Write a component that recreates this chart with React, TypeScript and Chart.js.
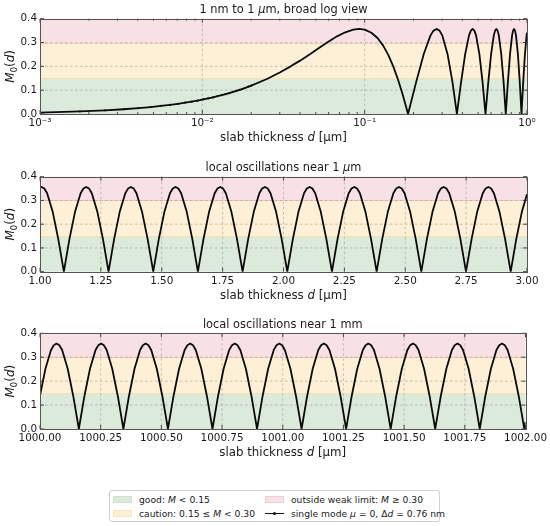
import React, { useEffect, useRef } from "react";
import { Chart, registerables } from "chart.js";

Chart.register(...registerables);

const FONT = '"DejaVu Sans", "Liberation Sans", sans-serif';

// ---------- data ----------
// Panel 1: broad log view, d in µm
const broadD = [
  0.001, 0.00176, 0.00252, 0.00328, 0.00404, 0.0048, 0.00556, 0.00632, 0.00708, 0.00784,
  0.0086, 0.00936, 0.01012, 0.01088, 0.01164, 0.0124, 0.01316, 0.01392, 0.01468, 0.01544,
  0.0162, 0.01696, 0.01772, 0.01848, 0.01924, 0.02,
  0.025, 0.03, 0.035, 0.04, 0.046, 0.052, 0.06, 0.068, 0.076, 0.085, 0.0925, 0.1, 0.11, 0.12,
  0.13, 0.14, 0.15, 0.16, 0.17, 0.178, 0.185,
  0.2081, 0.2313, 0.2544, 0.2659, 0.2775, 0.2891, 0.3006, 0.3238, 0.3469, 0.37,
  0.3931, 0.4163, 0.4394, 0.4509, 0.4625, 0.4741, 0.4856, 0.5088, 0.5319, 0.555,
  0.5781, 0.6013, 0.6244, 0.6359, 0.6475, 0.6591, 0.6706, 0.6938, 0.7169, 0.74,
  0.7631, 0.7863, 0.8094, 0.8209, 0.8325, 0.8441, 0.8556, 0.8788, 0.9019, 0.925,
  0.9481, 0.9713, 0.9944, 1.0,
];
const broadM = [
  0.0061, 0.0107, 0.0153, 0.0199, 0.0245, 0.0291, 0.0337, 0.0383, 0.0428, 0.0474,
  0.0519, 0.0565, 0.061, 0.0656, 0.0701, 0.0746, 0.0791, 0.0836, 0.0881, 0.0925,
  0.097, 0.1014, 0.1058, 0.1102, 0.1146, 0.1189,
  0.147, 0.174, 0.2, 0.224, 0.251, 0.276, 0.304, 0.327, 0.343, 0.354, 0.357, 0.354, 0.341, 0.319,
  0.287, 0.247, 0.2, 0.147, 0.09, 0.042, 0,
  0.137, 0.252, 0.33, 0.35, 0.357, 0.35, 0.33, 0.252, 0.137, 0,
  0.137, 0.252, 0.33, 0.35, 0.357, 0.35, 0.33, 0.252, 0.137, 0,
  0.137, 0.252, 0.33, 0.35, 0.357, 0.35, 0.33, 0.252, 0.137, 0,
  0.137, 0.252, 0.33, 0.35, 0.357, 0.35, 0.33, 0.252, 0.137, 0,
  0.137, 0.252, 0.33, 0.341,
];

// Panel 2: near 1 µm
const micronD = [
  1.0, 1.0063, 1.0178, 1.0292, 1.0522, 1.0751,
  1.098, 1.1209, 1.1439, 1.1668, 1.1783, 1.1898, 1.2012, 1.2127, 1.2356, 1.2586,
  1.2815, 1.3044, 1.3274, 1.3503, 1.3618, 1.3733, 1.3847, 1.3962, 1.4191, 1.4421,
  1.465, 1.4879, 1.5109, 1.5338, 1.5453, 1.5568, 1.5682, 1.5797, 1.6026, 1.6256,
  1.6485, 1.6714, 1.6944, 1.7173, 1.7288, 1.7403, 1.7517, 1.7632, 1.7861, 1.8091,
  1.832, 1.8549, 1.8779, 1.9008, 1.9123, 1.9238, 1.9352, 1.9467, 1.9696, 1.9926,
  2.0155, 2.0384, 2.0614, 2.0843, 2.0958, 2.1073, 2.1187, 2.1302, 2.1531, 2.1761,
  2.199, 2.2219, 2.2449, 2.2678, 2.2793, 2.2908, 2.3022, 2.3137, 2.3366, 2.3596,
  2.3825, 2.4054, 2.4284, 2.4513, 2.4628, 2.4743, 2.4857, 2.4972, 2.5201, 2.5431,
  2.566, 2.5889, 2.6119, 2.6348, 2.6463, 2.6578, 2.6692, 2.6807, 2.7036, 2.7266,
  2.7495, 2.7724, 2.7954, 2.8183, 2.8298, 2.8413, 2.8527, 2.8642, 2.8871, 2.9101,
  2.933, 2.9559, 2.9789, 3.0,
];
const micronM = [
  0.355, 0.357, 0.35, 0.33, 0.252, 0.137,
  0, 0.137, 0.252, 0.33, 0.35, 0.357, 0.35, 0.33, 0.252, 0.137,
  0, 0.137, 0.252, 0.33, 0.35, 0.357, 0.35, 0.33, 0.252, 0.137,
  0, 0.137, 0.252, 0.33, 0.35, 0.357, 0.35, 0.33, 0.252, 0.137,
  0, 0.137, 0.252, 0.33, 0.35, 0.357, 0.35, 0.33, 0.252, 0.137,
  0, 0.137, 0.252, 0.33, 0.35, 0.357, 0.35, 0.33, 0.252, 0.137,
  0, 0.137, 0.252, 0.33, 0.35, 0.357, 0.35, 0.33, 0.252, 0.137,
  0, 0.137, 0.252, 0.33, 0.35, 0.357, 0.35, 0.33, 0.252, 0.137,
  0, 0.137, 0.252, 0.33, 0.35, 0.357, 0.35, 0.33, 0.252, 0.137,
  0, 0.137, 0.252, 0.33, 0.35, 0.357, 0.35, 0.33, 0.252, 0.137,
  0, 0.137, 0.252, 0.33, 0.35, 0.357, 0.35, 0.33, 0.252, 0.137,
  0, 0.137, 0.252, 0.326,
];

// Panel 3: near 1 mm
const mmD = [
  1000.0, 1000.0224, 1000.0453, 1000.0568, 1000.0683, 1000.0797, 1000.0912, 1000.1141, 1000.1371,
  1000.16, 1000.1829, 1000.2059, 1000.2288, 1000.2403, 1000.2518, 1000.2632, 1000.2747, 1000.2976, 1000.3206,
  1000.3435, 1000.3664, 1000.3894, 1000.4123, 1000.4238, 1000.4353, 1000.4467, 1000.4582, 1000.4811, 1000.5041,
  1000.527, 1000.5499, 1000.5729, 1000.5958, 1000.6073, 1000.6188, 1000.6302, 1000.6417, 1000.6646, 1000.6876,
  1000.7105, 1000.7334, 1000.7564, 1000.7793, 1000.7908, 1000.8023, 1000.8137, 1000.8252, 1000.8481, 1000.8711,
  1000.894, 1000.9169, 1000.9399, 1000.9628, 1000.9743, 1000.9858, 1000.9972, 1001.0087, 1001.0316, 1001.0546,
  1001.0775, 1001.1004, 1001.1234, 1001.1463, 1001.1578, 1001.1693, 1001.1807, 1001.1922, 1001.2151, 1001.2381,
  1001.261, 1001.2839, 1001.3069, 1001.3298, 1001.3413, 1001.3528, 1001.3642, 1001.3757, 1001.3986, 1001.4216,
  1001.4445, 1001.4674, 1001.4904, 1001.5133, 1001.5248, 1001.5363, 1001.5477, 1001.5592, 1001.5821, 1001.6051,
  1001.628, 1001.6509, 1001.6739, 1001.6968, 1001.7083, 1001.7198, 1001.7312, 1001.7427, 1001.7656, 1001.7886,
  1001.8115, 1001.8344, 1001.8574, 1001.8803, 1001.8918, 1001.9033, 1001.9147, 1001.9262, 1001.9491, 1001.9721,
  1001.995, 1002.0,
];
const mmM = [
  0.14, 0.252, 0.33, 0.35, 0.357, 0.35, 0.33, 0.252, 0.137,
  0, 0.137, 0.252, 0.33, 0.35, 0.357, 0.35, 0.33, 0.252, 0.137,
  0, 0.137, 0.252, 0.33, 0.35, 0.357, 0.35, 0.33, 0.252, 0.137,
  0, 0.137, 0.252, 0.33, 0.35, 0.357, 0.35, 0.33, 0.252, 0.137,
  0, 0.137, 0.252, 0.33, 0.35, 0.357, 0.35, 0.33, 0.252, 0.137,
  0, 0.137, 0.252, 0.33, 0.35, 0.357, 0.35, 0.33, 0.252, 0.137,
  0, 0.137, 0.252, 0.33, 0.35, 0.357, 0.35, 0.33, 0.252, 0.137,
  0, 0.137, 0.252, 0.33, 0.35, 0.357, 0.35, 0.33, 0.252, 0.137,
  0, 0.137, 0.252, 0.33, 0.35, 0.357, 0.35, 0.33, 0.252, 0.137,
  0, 0.137, 0.252, 0.33, 0.35, 0.357, 0.35, 0.33, 0.252, 0.137,
  0, 0.137, 0.252, 0.33, 0.35, 0.357, 0.35, 0.33, 0.252, 0.137,
  0, 0.03,
];

// thresholds of the shaded regimes
const bandEdges = [0, 0.15, 0.3, 0.4];
const bandColors = ["rgb(220,234,219)", "rgb(253,240,214)", "rgb(247,225,228)"];
const bandLineColors = ["rgba(0,0,0,0)", "rgb(246,224,172)", "rgb(246,202,188)"];
const yTickValues = [0, 0.1, 0.2, 0.3, 0.4];

type Part = { t: string; i?: boolean; sub?: boolean };

const titleBroad: Part[] = [{ t: "1 nm to 1 " }, { t: "μ", i: true }, { t: "m, broad log view" }];
const titleMicron: Part[] = [{ t: "local oscillations near 1 " }, { t: "μ", i: true }, { t: "m" }];
const titleMm: Part[] = [{ t: "local oscillations near 1 mm" }];
const xTitle: Part[] = [{ t: "slab thickness " }, { t: "d", i: true }, { t: " [µm]" }];
const yTitle: Part[] = [{ t: "M", i: true }, { t: "0", sub: true }, { t: "(" }, { t: "d", i: true }, { t: ")" }];

// ---------- drawing helpers ----------
function fontFor(p: Part, size: number) {
  const s = p.sub ? size * 0.7 : size;
  return `${p.i ? "italic " : ""}${s}px ${FONT}`;
}
function drawRich(ctx: CanvasRenderingContext2D, parts: Part[], x: number, y: number, size: number) {
  let w = 0;
  for (const p of parts) {
    ctx.font = fontFor(p, size);
    w += ctx.measureText(p.t).width;
  }
  let cx = x - w / 2;
  ctx.textAlign = "left";
  ctx.textBaseline = "middle";
  for (const p of parts) {
    ctx.font = fontFor(p, size);
    ctx.fillText(p.t, cx, p.sub ? y + size * 0.28 : y);
    cx += ctx.measureText(p.t).width;
  }
}

const SUP: Record<string, string> = { "-": "⁻", "0": "⁰", "1": "¹", "2": "²", "3": "³", "4": "⁴" };
const isDecade = (v: number) => {
  const e = Math.log10(v);
  return Math.abs(e - Math.round(e)) < 1e-6;
};

type PanelCfg = {
  xs: number[];
  ys: number[];
  log: boolean;
  min: number;
  max: number;
  title: Part[];
  padTop: number;
  axisH: number;
  dots: boolean;
};

function makeDecoPlugin(cfg: PanelCfg) {
  const majorX = (scale: any): number[] => {
    if (cfg.log) {
      const out: number[] = [];
      for (let e = Math.round(Math.log10(cfg.min)); e <= Math.round(Math.log10(cfg.max)); e++) out.push(Math.pow(10, e));
      return out;
    }
    return scale.ticks.map((t: any) => t.value);
  };
  const minorX = (): number[] => {
    if (!cfg.log) return [];
    const out: number[] = [];
    for (let e = Math.round(Math.log10(cfg.min)); e < Math.round(Math.log10(cfg.max)); e++)
      for (let m = 2; m <= 9; m++) out.push(m * Math.pow(10, e));
    return out;
  };
  return {
    id: "deco",
    beforeDatasetsDraw(chart: any) {
      const { ctx, chartArea: a, scales } = chart;
      const x = scales.x, y = scales.y;
      ctx.save();
      for (let i = 0; i < bandColors.length; i++) {
        const y0 = y.getPixelForValue(bandEdges[i]);
        const y1 = y.getPixelForValue(bandEdges[i + 1]);
        ctx.fillStyle = bandColors[i];
        ctx.fillRect(a.left, y1, a.right - a.left, y0 - y1);
      }
      for (let i = 1; i < bandEdges.length - 1; i++) {
        const yy = Math.round(y.getPixelForValue(bandEdges[i])) + 0.5;
        ctx.strokeStyle = bandLineColors[i];
        ctx.lineWidth = 1;
        ctx.beginPath();
        ctx.moveTo(a.left, yy);
        ctx.lineTo(a.right, yy);
        ctx.stroke();
      }
      ctx.setLineDash([2.5, 2.5]);
      ctx.strokeStyle = "rgba(150,150,150,0.7)";
      ctx.lineWidth = 0.8;
      for (const v of majorX(x)) {
        const px = x.getPixelForValue(v);
        if (px <= a.left + 1 || px >= a.right - 1) continue;
        ctx.beginPath();
        ctx.moveTo(px, a.top);
        ctx.lineTo(px, a.bottom);
        ctx.stroke();
      }
      for (const v of yTickValues) {
        const py = y.getPixelForValue(v);
        if (py <= a.top + 1 || py >= a.bottom - 1) continue;
        ctx.beginPath();
        ctx.moveTo(a.left, py);
        ctx.lineTo(a.right, py);
        ctx.stroke();
      }
      ctx.restore();
    },
    afterDraw(chart: any) {
      const { ctx, chartArea: a, scales } = chart;
      const x = scales.x, y = scales.y;
      ctx.save();
      ctx.strokeStyle = "#333";
      ctx.lineWidth = 0.9;
      const tick = (x1: number, y1: number, x2: number, y2: number) => {
        ctx.beginPath();
        ctx.moveTo(x1, y1);
        ctx.lineTo(x2, y2);
        ctx.stroke();
      };
      for (const v of majorX(x)) {
        const px = x.getPixelForValue(v);
        tick(px, a.bottom, px, a.bottom - 4);
        tick(px, a.top, px, a.top + 4);
      }
      for (const v of minorX()) {
        const px = x.getPixelForValue(v);
        tick(px, a.bottom, px, a.bottom - 2);
        tick(px, a.top, px, a.top + 2);
      }
      for (const v of yTickValues) {
        const py = y.getPixelForValue(v);
        tick(a.left, py, a.left + 4, py);
        tick(a.right, py, a.right - 4, py);
      }
      ctx.strokeStyle = "#555";
      ctx.lineWidth = 1;
      ctx.strokeRect(Math.round(a.left) + 0.5, Math.round(a.top) + 0.5, Math.round(a.right - a.left), Math.round(a.bottom - a.top));
      ctx.fillStyle = "#1a1a1a";
      drawRich(ctx, cfg.title, (a.left + a.right) / 2, a.top - 8.5, 11.4);
      drawRich(ctx, xTitle, (a.left + a.right) / 2, a.bottom + 24, 11.8);
      ctx.translate(11, (a.top + a.bottom) / 2);
      ctx.rotate(-Math.PI / 2);
      drawRich(ctx, yTitle, 0, 0, 12);
      ctx.restore();
    },
  };
}

function Panel({ cfg, top }: { cfg: PanelCfg; top: number }) {
  const ref = useRef<HTMLCanvasElement | null>(null);
  useEffect(() => {
    if (!ref.current) return;
    const points = cfg.xs.map((d, i) => ({ x: d, y: cfg.ys[i] }));
    const chart = new Chart(ref.current, {
      type: "line",
      data: {
        datasets: [
          {
            data: points,
            borderColor: "#0a0a0a",
            borderWidth: 1.8,
            tension: 0,
            borderJoinStyle: "round",
            pointRadius: (c: any) => (cfg.dots && c.raw && c.raw.x <= 0.0201 ? 1.1 : 0),
            pointBackgroundColor: "#111",
            pointBorderWidth: 0,
          },
        ],
      },
      options: {
        animation: false,
        responsive: false,
        maintainAspectRatio: false,
        events: [],
        layout: { padding: { top: cfg.padTop, right: 23, left: 0, bottom: 0 } },
        plugins: { legend: { display: false }, tooltip: { enabled: false }, title: { display: false } },
        scales: {
          x: {
            type: cfg.log ? "logarithmic" : "linear",
            min: cfg.min,
            max: cfg.max,
            grid: { display: false, drawTicks: false },
            border: { display: false },
            ticks: {
              autoSkip: false,
              maxRotation: 0,
              padding: 3,
              color: "#1a1a1a",
              font: { family: FONT, size: 10.4 },
              ...(cfg.log ? {} : { stepSize: 0.25 }),
              callback: (v: any) => {
                const n = Number(v);
                if (cfg.log) {
                  if (!isDecade(n)) return null;
                  const e = String(Math.round(Math.log10(n)));
                  return "10" + e.split("").map((c) => SUP[c] || c).join("");
                }
                return n.toFixed(2);
              },
            },
            afterFit: (s: any) => {
              s.height = cfg.axisH;
            },
          },
          y: {
            min: 0,
            max: 0.4,
            grid: { display: false, drawTicks: false },
            border: { display: false },
            ticks: {
              stepSize: 0.1,
              padding: 3,
              color: "#1a1a1a",
              font: { family: FONT, size: 10.4 },
              callback: (v: any) => Number(v).toFixed(1),
            },
            afterFit: (s: any) => {
              s.width = 40;
            },
          },
        },
      },
      plugins: [makeDecoPlugin(cfg)],
    } as any);
    return () => chart.destroy();
  }, [cfg]);
  return (
    <canvas
      ref={ref}
      width={550}
      height={150}
      style={{ position: "absolute", left: 0, top, width: 550, height: 150 }}
    />
  );
}

const panels: { cfg: PanelCfg; top: number }[] = [
  { top: 0, cfg: { xs: broadD, ys: broadM, log: true, min: 0.001, max: 1, title: titleBroad, padTop: 18.7, axisH: 36, dots: true } },
  { top: 157, cfg: { xs: micronD, ys: micronM, log: false, min: 1, max: 3, title: titleMicron, padTop: 19.7, axisH: 35.3, dots: false } },
  { top: 314, cfg: { xs: mmD, ys: mmM, log: false, min: 1000, max: 1002, title: titleMm, padTop: 19.3, axisH: 35, dots: false } },
];

function Patch({ color, border }: { color: string; border: string }) {
  return (
    <span
      style={{
        display: "inline-block",
        width: 19,
        height: 7,
        background: color,
        border: `1px solid ${border}`,
        boxSizing: "border-box",
        verticalAlign: "middle",
      }}
    />
  );
}

function LineSample() {
  return (
    <span style={{ position: "relative", display: "inline-block", width: 19, height: 7, verticalAlign: "middle" }}>
      <span style={{ position: "absolute", left: 0, top: 3, width: 19, height: 1, background: "#111" }} />
      <span style={{ position: "absolute", left: 8, top: 2, width: 3, height: 3, borderRadius: 2, background: "#111" }} />
    </span>
  );
}

export default function App() {
  const itemStyle = (left: number, top: number): React.CSSProperties => ({
    position: "absolute",
    left,
    top,
    height: 13,
    display: "flex",
    alignItems: "center",
    whiteSpace: "nowrap",
  });
  const gap = { marginLeft: 7 };
  return (
    <div style={{ position: "absolute", left: 0, top: 0, width: 550, height: 526, background: "#fff", overflow: "hidden" }}>
      {panels.map((p, i) => (
        <Panel key={i} cfg={p.cfg} top={p.top} />
      ))}
      <div
        style={{
          position: "absolute",
          left: 109,
          top: 490,
          width: 331,
          height: 32,
          border: "1px solid #cfcfcf",
          borderRadius: 3,
          boxSizing: "border-box",
          fontFamily: FONT,
          fontSize: 9.2,
          color: "#1a1a1a",
          background: "#fff",
        }}
      >
        <div style={itemStyle(3, 2)}>
          <Patch color={bandColors[0]} border="rgb(208,226,207)" />
          <span style={gap}>
            good: <i>M</i> &lt; 0.15
          </span>
        </div>
        <div style={itemStyle(3, 16)}>
          <Patch color={bandColors[1]} border="rgb(250,228,190)" />
          <span style={gap}>
            caution: 0.15 ≤ <i>M</i> &lt; 0.30
          </span>
        </div>
        <div style={itemStyle(155, 2)}>
          <Patch color={bandColors[2]} border="rgb(240,205,210)" />
          <span style={gap}>
            outside weak limit: <i>M</i> ≥ 0.30
          </span>
        </div>
        <div style={itemStyle(155, 16)}>
          <LineSample />
          <span style={gap}>
            single mode <i>μ</i> = 0, Δ<i>d</i> = 0.76 nm
          </span>
        </div>
      </div>
    </div>
  );
}
